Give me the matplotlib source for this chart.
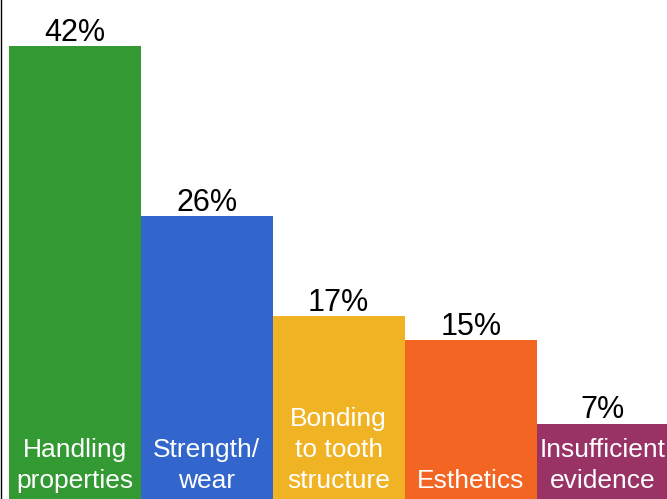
import matplotlib.pyplot as plt

plt.rcParams['font.family'] = ['Liberation Sans', 'DejaVu Sans']

# Data
categories = ['Handling\nproperties', 'Strength/\nwear', 'Bonding\nto tooth\nstructure',
              'Esthetics', 'Insufficient\nevidence']
shares = [42, 26.2, 17, 14.7, 7]
colors = ['#339933', '#3366CC', '#F0B323', '#F26522', '#993366']

fig = plt.figure(figsize=(6.67, 4.99), dpi=100)
ax = fig.add_axes([0.75 / 667, 0, 1, 1])

x = range(len(categories))
ax.bar(x, shares, width=1.0, color=colors, edgecolor='none')

for i, (v, lab) in enumerate(zip(shares, categories)):
    # percentage above the bar
    ax.annotate(f'{round(v)}%', (i, v), xytext=(0, 3.6), textcoords='offset points',
                ha='center', va='baseline', fontsize=22, color='black')
    # category name inside the bar, near the bottom
    ax.annotate(lab, (i, 0), xytext=(0, 4.5), textcoords='offset points',
                ha='center', va='bottom', fontsize=19, color='white',
                multialignment='center', linespacing=1.36)

ax.set_xlim(-0.5 - 8 / 132, -0.5 - 8 / 132 + 667 / 132)
ax.set_ylim(0, 499 / (453 / 42))

for side in ['top', 'right', 'bottom']:
    ax.spines[side].set_visible(False)
ax.spines['left'].set_linewidth(1)
ax.spines['left'].set_color('black')
ax.set_xticks([])
ax.set_yticks([])

fig.savefig('out.png', dpi=100)
